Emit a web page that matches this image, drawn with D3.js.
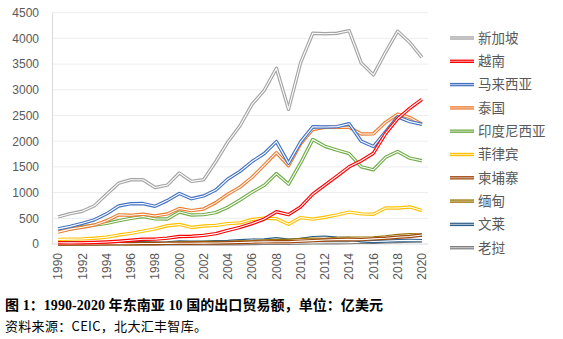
<!DOCTYPE html>
<html><head><meta charset="utf-8">
<script src="https://cdn.jsdelivr.net/npm/d3@7"></script>
<style>body{margin:0;background:#fff}</style>
</head><body>
<svg id="c" width="563" height="339"></svg>
<script>
const years = d3.range(1990, 2021);
const seriesNames = ["新加坡","越南","马来西亚","泰国","印度尼西亚","菲律宾","柬埔寨","缅甸","文莱","老挝"];
const colors = ["#A5A5A5","#FF0000","#4472C4","#ED7D31","#70AD47","#FFC000","#9E480E","#997300","#2E5F8A","#7F7F7F"];
const singapore = [527,590,637,744,966,1183,1250,1250,1100,1145,1380,1218,1250,1600,1985,2300,2720,2990,3420,2620,3530,4100,4090,4100,4150,3520,3290,3730,4140,3920,3630];
const vietnam = [24,21,25,30,40,54,73,92,94,115,145,150,167,201,265,324,398,485,627,571,722,969,1145,1322,1502,1620,1766,2148,2437,2640,2815];
const malaysia = [294,343,403,470,587,739,784,787,733,844,982,881,935,1049,1265,1413,1606,1760,1992,1573,1987,2280,2275,2283,2340,1999,1897,2181,2474,2381,2330];
const thailand = [231,290,325,370,454,567,558,580,546,585,690,650,681,805,970,1106,1298,1535,1776,1523,1953,2228,2270,2270,2270,2140,2143,2367,2527,2462,2330];
const indonesia = [257,291,339,368,400,454,499,534,489,487,621,563,571,611,716,857,1008,1141,1370,1166,1577,2035,1900,1826,1759,1502,1444,1686,1801,1670,1620];
const philippines = [90,95,100,113,134,174,206,251,295,355,380,322,351,363,397,412,477,503,490,385,514,483,520,567,620,586,580,700,700,720,650];
const cambodia = [1,2,3,3,5,8,6,9,11,12,14,15,17,20,25,30,37,42,45,43,55,66,77,86,90,85,100,112,130,147,175];
const myanmar = [3,4,5,6,8,9,9,10,11,12,20,24,30,30,28,38,46,60,68,68,88,92,90,110,112,114,118,138,166,180,170];
const brunei = [22,23,24,24,23,24,25,24,18,22,39,36,36,44,50,62,76,78,103,72,89,125,130,114,107,64,49,56,66,70,66];
const laos = [1,1,1,2,3,3,3,3,3,3,3,3,3,4,4,5,10,12,13,12,18,22,23,24,26,37,35,41,50,55,60];
const seriesData = [singapore,vietnam,malaysia,thailand,indonesia,philippines,cambodia,myanmar,brunei,laos];
const yTicks = [0,500,1000,1500,2000,2500,3000,3500,4000,4500];

const svg = d3.select("#c");
const mLeft = 52, mRight = 428, mTop = 12.7, mBottom = 244;
const x = d3.scaleBand().domain(years).range([mLeft, mRight]);
const y = d3.scaleLinear().domain([0, 4500]).range([mBottom, mTop]);
const px = d => x(d) + x.bandwidth()/2;

svg.append("g").selectAll("line").data(yTicks.slice(1)).join("line")
  .attr("x1", mLeft).attr("x2", mRight).attr("y1", d=>y(d)).attr("y2", d=>y(d))
  .attr("stroke", "#EDEDED").attr("stroke-width", 1);

const yAxis = svg.append("g").attr("transform", `translate(${mLeft},0)`)
  .call(d3.axisLeft(y).tickValues(yTicks).tickFormat(d3.format("d")).tickSize(0).tickPadding(13));
yAxis.select(".domain").attr("stroke", "#D9D9D9");
yAxis.selectAll("text").attr("font-family","Liberation Sans, Arial, sans-serif").attr("font-size","12px").attr("fill","#595959");

const xAxis = svg.append("g").attr("transform", `translate(0,${mBottom})`)
  .call(d3.axisBottom(x).tickValues(years.filter(d=>d%2===0)).tickSize(0).tickPadding(0));
xAxis.select(".domain").attr("stroke", "#D9D9D9").attr("d", `M${mLeft},0H${mRight}`);
xAxis.selectAll("text")
  .attr("font-family","Liberation Sans, Arial, sans-serif").attr("font-size","12px").attr("fill","#595959")
  .attr("transform","rotate(-90)").attr("text-anchor","end").attr("dy","0.35em").attr("x",-9).attr("y",0);

const line = d3.line().x((d,i)=>px(years[i])).y(d=>y(d));

for (let k = seriesData.length-1; k >= 0; k--) {
  const g = svg.append("g");
  g.append("path").datum(seriesData[k]).attr("d", line).attr("fill","none")
    .attr("stroke", colors[k]).attr("stroke-width", 3.4).attr("stroke-linejoin","round");
  g.append("path").datum(seriesData[k]).attr("d", line).attr("fill","none")
    .attr("stroke", "#fff").attr("stroke-width", 1.1).attr("stroke-linejoin","round");
}

const leg = svg.append("g");
seriesNames.forEach((name, i) => {
  const ly = 38 + i*23.3;
  leg.append("line").attr("x1",450).attr("x2",474).attr("y1",ly).attr("y2",ly)
    .attr("stroke",colors[i]).attr("stroke-width",3.4);
  leg.append("line").attr("x1",450).attr("x2",474).attr("y1",ly).attr("y2",ly)
    .attr("stroke","#fff").attr("stroke-opacity",0.6).attr("stroke-width",1.1);
  leg.append("text").attr("x",478).attr("y",ly).attr("dy","0.36em")
    .attr("font-family","Noto Sans CJK SC, sans-serif").attr("font-size","13.5px").attr("fill","#595959")
    .text(name);
});

svg.append("text").attr("x",5).attr("y",310)
  .attr("font-family","Liberation Serif, Noto Sans CJK SC, serif").attr("font-weight","bold")
  .attr("font-size","14px").attr("fill","#000")
  .attr("textLength",378).attr("lengthAdjust","spacing")
  .text("图 1：1990-2020 年东南亚 10 国的出口贸易额，单位：亿美元");
svg.append("text").attr("x",5).attr("y",331)
  .attr("font-family","Noto Sans CJK SC, sans-serif")
  .attr("font-size","13px").attr("fill","#000")
  .attr("textLength",202).attr("lengthAdjust","spacing")
  .text("资料来源：CEIC，北大汇丰智库。");
</script>
</body></html>
